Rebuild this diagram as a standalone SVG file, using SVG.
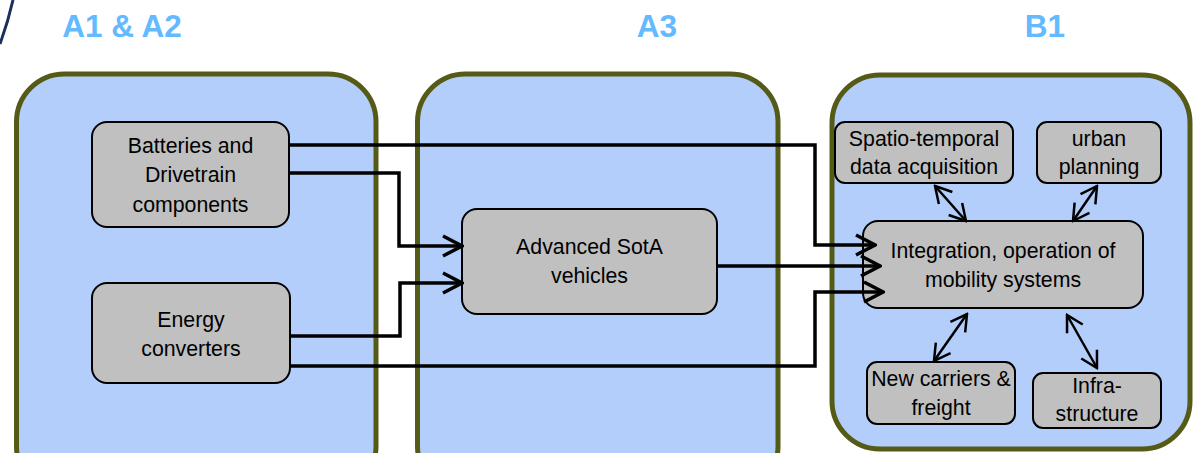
<svg xmlns="http://www.w3.org/2000/svg" width="1194" height="453" viewBox="0 0 1194 453">
  <style>
    .panel { fill: #b3cefa; stroke: #565a17; stroke-width: 5; }
    .node rect { fill: #c0c0c0; stroke: #000; stroke-width: 2; }
    .node text { font-family: "Liberation Sans", Arial, sans-serif; font-size: 21.3px; fill: #000; text-anchor: middle; }
    .title { font-family: "Liberation Sans", Arial, sans-serif; font-size: 31.5px; font-weight: bold; fill: #63baff; text-anchor: middle; }
    .flow { fill: none; stroke: #000; stroke-width: 3.5; marker-end: url(#chev); }
    .link { fill: none; stroke: #000; stroke-width: 2.5; marker-start: url(#chevS); marker-end: url(#chevS); }
  </style>
  <defs>
    <marker id="chev" markerUnits="userSpaceOnUse" viewBox="-22 -12 24 24" refX="0" refY="0" markerWidth="24" markerHeight="24" orient="auto">
      <path d="M -19 -10 L 0 0 L -19 10" fill="none" stroke="#000" stroke-width="3.5"/>
    </marker>
    <marker id="chevS" markerUnits="userSpaceOnUse" viewBox="-20 -11 22 22" refX="0" refY="0" markerWidth="22" markerHeight="22" orient="auto-start-reverse">
      <path d="M -16 -9 L 0 0 L -16 9" fill="none" stroke="#000" stroke-width="2.5"/>
    </marker>
  </defs>

  <rect width="1194" height="453" fill="#fff"/>

  <!-- corner swoosh -->
  <path d="M 13 0 Q 8 22 0 44" fill="none" stroke="#1b2f5c" stroke-width="3"/>

  <!-- section titles -->
  <text class="title" x="122" y="37">A1 &amp; A2</text>
  <text class="title" x="657" y="37">A3</text>
  <text class="title" x="1045" y="37">B1</text>

  <!-- panels -->
  <g id="panel-a1a2"><rect class="panel" x="16.5" y="74" width="359.5" height="420" rx="48"/></g>
  <g id="panel-a3"><rect class="panel" x="417.5" y="74" width="360.5" height="420" rx="48"/></g>
  <g id="panel-b1"><rect class="panel" x="832" y="75" width="358" height="374" rx="48"/></g>

  <!-- nodes -->
  <g id="batteries" class="node">
    <rect x="92" y="122" width="197" height="105" rx="15"/>
    <text x="190.5" y="152.5">Batteries and</text>
    <text x="190.5" y="182">Drivetrain</text>
    <text x="190.5" y="211.5">components</text>
  </g>
  <g id="energy" class="node">
    <rect x="92" y="283" width="198" height="100" rx="15"/>
    <text x="191" y="326.5">Energy</text>
    <text x="191" y="355.5">converters</text>
  </g>
  <g id="vehicles" class="node">
    <rect x="462" y="209" width="255" height="105" rx="15"/>
    <text x="589.5" y="254">Advanced SotA</text>
    <text x="589.5" y="283">vehicles</text>
  </g>
  <g id="integration" class="node">
    <rect x="863" y="221" width="280" height="87" rx="15"/>
    <text x="1003" y="257.5">Integration, operation of</text>
    <text x="1003" y="286.5">mobility systems</text>
  </g>
  <g id="spatio" class="node">
    <rect x="835" y="122" width="178" height="61" rx="10"/>
    <text x="924" y="146">Spatio-temporal</text>
    <text x="924" y="174">data acquisition</text>
  </g>
  <g id="urban" class="node">
    <rect x="1037" y="122" width="124" height="61" rx="10"/>
    <text x="1099" y="146">urban</text>
    <text x="1099" y="174">planning</text>
  </g>
  <g id="carriers" class="node">
    <rect x="867" y="362" width="148" height="62" rx="10"/>
    <text x="941" y="386">New carriers &amp;</text>
    <text x="941" y="414.5">freight</text>
  </g>
  <g id="infra" class="node">
    <rect x="1033" y="373" width="128" height="55" rx="10"/>
    <text x="1097" y="392.5">Infra-</text>
    <text x="1097" y="421">structure</text>
  </g>

  <!-- connectors (drawn above the boxes so the heads overlap them) -->
  <g id="connectors">
    <polyline class="flow" points="289,145 815,145 815,245 875,245"/>
    <polyline class="flow" points="289,173 399,173 399,246 462,246"/>
    <polyline class="flow" points="290,336 400,336 400,283 462,283"/>
    <polyline class="flow" points="290,366 815,366 815,292 883,292"/>
    <polyline class="flow" points="717,266 880,266"/>
    <line class="link" x1="935" y1="186" x2="966" y2="221"/>
    <line class="link" x1="1097" y1="186" x2="1073" y2="221"/>
    <line class="link" x1="967" y1="314" x2="934" y2="361"/>
    <line class="link" x1="1067" y1="315" x2="1097" y2="368"/>
  </g>
</svg>
